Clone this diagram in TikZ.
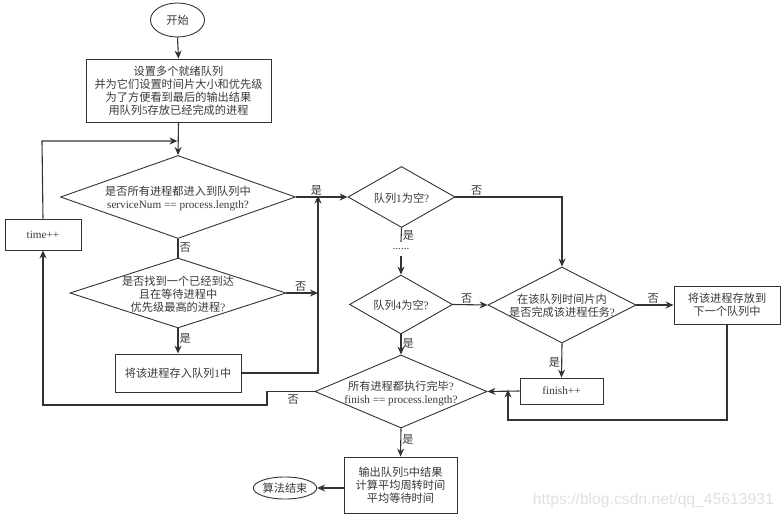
\documentclass[tikz,border=0pt]{standalone}
\usepackage{fontspec}
\setmainfont{Liberation Serif}
\newfontfamily\cjk{Noto Sans CJK SC}
\newfontfamily\wmfont{Liberation Sans}
\usetikzlibrary{shapes.geometric,arrows.meta}
\newcommand\lt[1]{{\rmfamily #1}}
\newcommand\myfs{\fontsize{11.2}{13}\selectfont\cjk}
\begin{document}
\begin{tikzpicture}[x=1pt,y=-1pt,
  every node/.style={font=\myfs, text=black!78},
  ln/.style={draw=black!80, line width=1.1pt},
  arr/.style={ln, -{Stealth[length=8pt,width=7pt]}},
  box/.style={rectangle, draw=black!80, line width=0.9pt, align=center, inner sep=0pt},
  dia/.style={diamond, draw=black!80, line width=0.9pt, inner sep=0pt},
  ell/.style={ellipse, draw=black!80, line width=0.9pt, inner sep=0pt},
  txt/.style={align=center, inner sep=0pt},
  lab/.style={inner sep=1pt}
]
\useasboundingbox (0,0) rectangle (783,519);

% nodes
\node[ell, minimum width=54, minimum height=34] (start) at (177.5,20) {开始};
\node[box, minimum width=185, minimum height=63] (b1) at (178.5,90.5)
  {设置多个就绪队列\\并为它们设置时间片大小和优先级\\为了方便看到最后的输出结果\\用队列\lt{5}存放已经完成的进程};

\node[dia, minimum width=235, minimum height=83] (d1) at (178,197) {};
\node[txt] (d1t) at (178,199) {是否所有进程都进入到队列中\\\lt{serviceNum == process.length?}};

\node[dia, minimum width=216, minimum height=70] (d2) at (178,293) {};
\node[txt] (d2t) at (178,294) {是否找到一个已经到达\\且在等待进程中\\优先级最高的进程\lt{?}};

\node[box, minimum width=126, minimum height=38] (b2) at (178,373) {将该进程存入队列\lt{1}中};

\node[box, minimum width=76, minimum height=31] (tp) at (43,234.5) {\lt{time++}};

\node[dia, minimum width=107, minimum height=61] (d3) at (401.5,197) {};
\node[txt] (d3t) at (401.5,198) {队列\lt{1}为空\lt{?}};

\node[txt, minimum height=14] (dots) at (401,249) {\lt{......}};

\node[dia, minimum width=103, minimum height=59] (d4) at (401,304.5) {};
\node[txt] (d4t) at (401,305.5) {队列\lt{4}为空\lt{?}};

\node[dia, minimum width=148, minimum height=76] (d5) at (562,305) {};
\node[txt] (d5t) at (562,306) {在该队列时间片内\\是否完成该进程任务\lt{?}};

\node[box, minimum width=106, minimum height=38] (b3) at (727,305) {将该进程存放到\\下一个队列中};

\node[box, minimum width=83, minimum height=26] (fin) at (561.5,391) {\lt{finish++}};

\node[dia, minimum width=172, minimum height=73] (d6) at (401,391.5) {};
\node[txt] (d6t) at (401,393) {所有进程都执行完毕\lt{?}\\\lt{finish == process.length?}};

\node[box, minimum width=113, minimum height=56] (b4) at (400.5,485) {输出队列\lt{5}中结果\\计算平均周转时间\\平均等待时间};

\node[ell, minimum width=60, minimum height=22] (end) at (285,488) {算法结束};

\coordinate (mx) at (318,0);
\coordinate (loopR) at (508,420);
\coordinate (loopL) at (267,405);
\coordinate (tx) at (42,141);

% connectors
\draw[arr] (start.south) -- (b1.north);
\draw[arr] (b1.south) -- (d1.north);
\draw[ln] (d1.south) -- node[lab, right, pos=0.45] {否} (d2.north);
\draw[arr] (d2.south) -- node[lab, right, pos=0.4] {是} (b2.north);
\draw[arr] (d2.east) -- node[lab, above, pos=0.45] {否} (d2.east -| mx);
\draw[arr] (b2.east) -- (b2.east -| mx) -- ([yshift=1.5pt]d1.east -| mx);
\draw[arr] (d1.east) -- node[lab, above, pos=0.4] {是} (d3.west);
\draw[arr] (d3.east) -- node[lab, above, pos=0.2] {否} (d3.east -| d5.north) -- (d5.north);
\draw[ln] (d3.south) -- node[lab, right, pos=0.55] {是} (dots.north);
\draw[arr] (dots.south) -- (d4.north);
\draw[arr] (d4.east) -- node[lab, above, pos=0.4] {否} (d5.west);
\draw[arr] (d5.east) -- node[lab, above, pos=0.45] {否} (b3.west);
\draw[arr] (d5.south) -- node[lab, left, pos=0.55] {是} (fin.north);
\draw[arr] (b3.south) -- (b3.south |- loopR) -- (loopR) -- ([yshift=1.5pt]loopR |- fin.west);
\draw[arr] (fin.west) -- (d6.east);
\draw[arr] (d4.south) -- node[lab, right, pos=0.45] {是} (d6.north);
\draw[arr] (d6.west) -- node[lab, below, pos=0.45, yshift=-2pt] {否} (d6.west -| loopL) -- (loopL) -- (loopL -| tp.south) -- (tp.south);
\draw[arr] (tp.north) -- (tx) -- ([xshift=-1pt]tx -| b1.south);
\draw[arr] (d6.south) -- node[lab, right, pos=0.4] {是} (b4.north);
\draw[arr] (b4.west |- end.east) -- (end.east);

% watermark
\node[inner sep=0, text=black!12, font=\wmfont\fontsize{15.7}{16}\selectfont, anchor=east] (wm) at (774,500) {https://blog.csdn.net/qq\_45613931};
\end{tikzpicture}
\end{document}
